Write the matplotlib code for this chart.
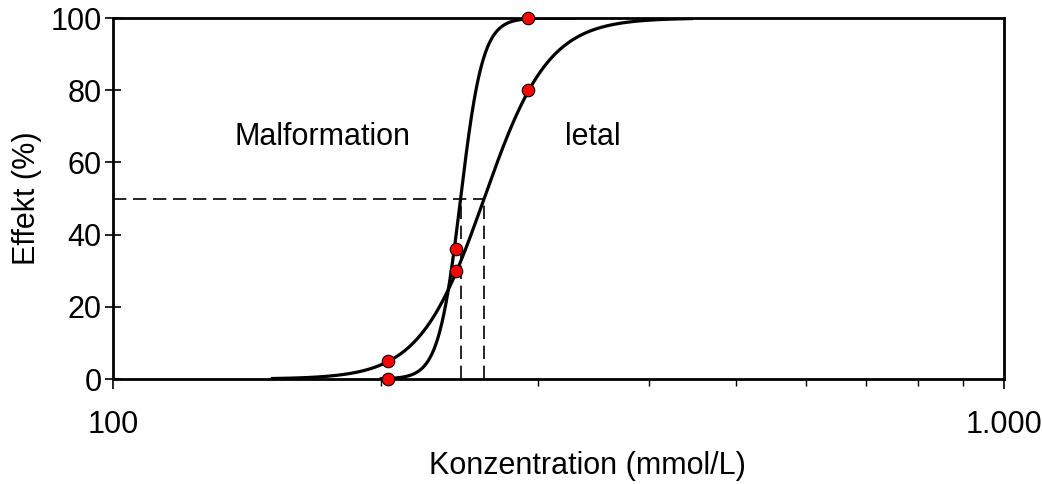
import numpy as np
import matplotlib.pyplot as plt
from matplotlib.ticker import FixedLocator, NullFormatter

plt.rcParams['font.family'] = ['Liberation Sans', 'DejaVu Sans']

# Messpunkte (Konzentration in mmol/L, Effekt in %)
konz = [203.6, 242.6, 292.3]
eff_malformation = [0, 30, 100]
eff_letal = [5, 36, 80]

# Angepasste Dosis-Wirkungs-Kurven (log-logistisch): EC50 und Hill-Steigung
ec50_malformation, hill_malformation = 245.6, 35
ec50_letal, hill_letal = 261.0, 12
bereich_malformation = (200, 330)
bereich_letal = (151, 446)


def kurve(x, ec50, hill):
    return 100.0 / (1.0 + (ec50 / x) ** hill)


fig = plt.figure(figsize=(10.42, 4.84), dpi=100)
ax = fig.add_axes([0.1084, 0.2169, 0.855, 0.7459])
ax.set_xscale('log')

x_m = np.geomspace(*bereich_malformation, 400)
x_l = np.geomspace(*bereich_letal, 400)
ax.plot(x_l, kurve(x_l, ec50_letal, hill_letal), color='black', lw=2.3, zorder=3)
ax.plot(x_m, kurve(x_m, ec50_malformation, hill_malformation), color='black', lw=2.3, zorder=3)

# EC50-Hilfslinien
dash = dict(color='black', lw=1.2, linestyle=(0, (8, 4)), zorder=2)
ax.plot([100, ec50_letal], [50, 50], **dash)
ax.plot([ec50_malformation, ec50_malformation], [0, 50], **dash)
ax.plot([ec50_letal, ec50_letal], [0, 50], **dash)

mk = dict(marker='o', linestyle='none', markersize=9, markerfacecolor='#ff0000',
          markeredgecolor='black', markeredgewidth=0.8, zorder=5, clip_on=False)
ax.plot(konz, eff_malformation, **mk)
ax.plot(konz, eff_letal, **mk)

ax.text(172, 67, 'Malformation', fontsize=22, ha='center', va='center')
ax.text(346, 67, 'letal', fontsize=22, ha='center', va='center')

ax.set_xlim(100, 1000)
ax.set_ylim(0, 100)
ax.xaxis.set_major_locator(FixedLocator([100, 1000]))
ax.set_xticklabels(['100', '1.000'])
ax.xaxis.set_minor_locator(FixedLocator([200, 300, 400, 500, 600, 700, 800, 900]))
ax.xaxis.set_minor_formatter(NullFormatter())
ax.set_yticks([0, 20, 40, 60, 80, 100])

ax.tick_params(axis='y', direction='inout', length=12, width=1.2, labelsize=22, pad=2)
ax.tick_params(axis='x', which='major', direction='out', length=7, width=1.2,
               labelsize=22, pad=15)
ax.tick_params(axis='x', which='minor', direction='out', length=5, width=1.0)
for s in ax.spines.values():
    s.set_linewidth(2)

ax.set_xlabel('Konzentration (mmol/L)', fontsize=22, labelpad=8)
ax.xaxis.label.set_x(0.533)
ax.set_ylabel('Effekt (%)', fontsize=22, labelpad=6)

plt.savefig('out.png', dpi=100)
